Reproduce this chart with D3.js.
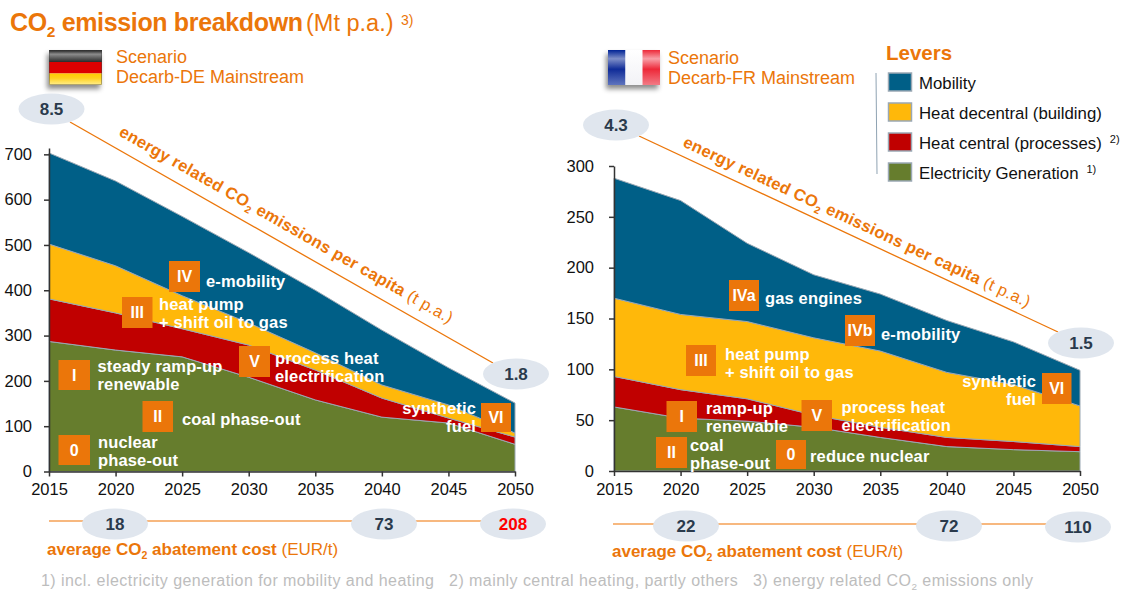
<!DOCTYPE html>
<html lang="en">
<head>
    <meta charset="UTF-8">
    <title>CO2 emission breakdown</title>
    <script src="https://d3js.org/d3.v7.min.js"></script>
    <style>
        html, body { margin: 0; padding: 0; background: #fff; }
        svg { display: block; }
        text { font-family: "Liberation Sans", Arial, sans-serif; }
    </style>
</head>
<body>
    <svg id="chart" width="1126" height="591"></svg>
    <script>
        const years = [2015, 2020, 2025, 2030, 2035, 2040, 2045, 2050];
        const levers = ['Electricity Generation', 'Heat central (processes)', 'Heat decentral (building)', 'Mobility'];

        // Germany, Mt p.a. per lever
        const deElectricity = [287, 268, 253, 208, 158, 120, 107, 60];
        const deHeatCentral = [94, 82, 62, 71, 66, 42, 11, 16];
        const deHeatDecentral = [121, 104, 73, 49, 38, 29, 29, 9];
        const deMobility = [201, 187, 175, 155, 138, 121, 82, 66];

        // France, Mt p.a. per lever
        const frElectricity = [63, 52, 49, 43, 33, 24, 21, 19];
        const frHeatCentral = [30, 28, 22, 12, 10, 9, 8, 5];
        const frHeatDecentral = [77, 74, 76, 76, 75, 64, 56, 40];
        const frMobility = [118, 112, 77, 62, 56, 51, 42, 35];

        const deTicks = [0, 100, 200, 300, 400, 500, 600, 700];
        const frTicks = [0, 50, 100, 150, 200, 250, 300];

        const dePerCapita = ['8.5', '1.8'];
        const frPerCapita = ['4.3', '1.5'];
        const deCost = ['18', '73', '208'];
        const frCost = ['22', '72', '110'];

        const orange = '#EB760A';
        const colors = {
            'Mobility': '#005F87',
            'Heat decentral (building)': '#FFB80A',
            'Heat central (processes)': '#C00000',
            'Electricity Generation': '#667D2D'
        };

        const svg = d3.select('#chart');
        const defs = svg.append('defs');

        defs.append('filter').attr('id', 'shadow')
            .attr('x', '-20%').attr('y', '-20%').attr('width', '140%').attr('height', '150%')
            .append('feDropShadow')
            .attr('dx', -2).attr('dy', 4).attr('stdDeviation', 2.5)
            .attr('flood-color', '#000').attr('flood-opacity', 0.45);

        function gradient(id, stops) {
            const g = defs.append('linearGradient').attr('id', id)
                .attr('x1', 0).attr('y1', 0).attr('x2', 0).attr('y2', 1);
            stops.forEach(s => g.append('stop').attr('offset', s[0]).attr('stop-color', s[1]));
        }
        gradient('deBlack', [[0, '#1c1c1c'], [0.35, '#8c8c8c'], [1, '#2a2a2a']]);
        gradient('deYellow', [[0, '#FFCC00'], [0.4, '#FFD21E'], [1, '#FFEE90']]);
        gradient('frBlue', [[0, '#002395'], [0.25, '#7f8fc8'], [0.55, '#102c98'], [1, '#5f74be']]);
        gradient('frWhite', [[0, '#ffffff'], [1, '#f2f2f6']]);
        gradient('frRed', [[0, '#ED2939'], [0.25, '#f8a0a8'], [0.55, '#ED2939'], [1, '#f27a85']]);

        // text with sub/superscript pieces: [string, bold?, 'sub'|'sup'|undefined]
        function richText(parent, x, y, parts, size, color, attrs) {
            const t = parent.append('text').attr('x', x).attr('y', y)
                .attr('font-size', size).attr('fill', color);
            Object.entries(attrs || {}).forEach(([k, v]) => t.attr(k, v));
            let back = 0;
            parts.forEach(p => {
                const ts = t.append('tspan').text(p[0])
                    .attr('font-weight', p[1] ? 'bold' : 'normal');
                let shift = 0;
                if (p[2] === 'sub') { shift = size * 0.24; ts.attr('font-size', size * 0.62); }
                if (p[2] === 'sup') { shift = -size * 0.42; ts.attr('font-size', size * 0.62); }
                ts.attr('dy', shift - back);
                back = shift;
            });
            return t;
        }

        function bubble(x, y, label, color) {
            svg.append('ellipse').attr('cx', x).attr('cy', y).attr('rx', 33).attr('ry', 15.5).attr('fill', '#E0E6EE');
            svg.append('text').attr('x', x).attr('y', y + 6).attr('text-anchor', 'middle')
                .attr('font-size', 17).attr('font-weight', 'bold').attr('fill', color || '#2A3A4C').text(label);
        }

        function badge(x, y, w, h, label) {
            svg.append('rect').attr('x', x).attr('y', y).attr('width', w).attr('height', h).attr('fill', orange);
            svg.append('text').attr('x', x + w / 2).attr('y', y + h / 2 + 5.5).attr('text-anchor', 'middle')
                .attr('font-size', 16).attr('font-weight', 'bold').attr('fill', '#fff').text(label);
        }

        function note(x, y, label, anchor) {
            svg.append('text').attr('x', x).attr('y', y).attr('text-anchor', anchor || 'start')
                .attr('font-size', 16.5).attr('font-weight', 'bold').attr('fill', '#fff')
                .attr('letter-spacing', 0.15).text(label);
        }

        function drawPanel(opts) {
            const x = d3.scaleLinear().domain([2015, 2050]).range(opts.xRange);
            const y = d3.scaleLinear().domain(opts.yDomain).range(opts.yRange);

            const rows = years.map((yr, i) => {
                const row = { year: yr };
                levers.forEach((l, j) => { row[l] = opts.series[j][i]; });
                return row;
            });
            const stacked = d3.stack().keys(levers)(rows);
            const area = d3.area()
                .x(d => x(d.data.year))
                .y0(d => y(d[0]))
                .y1(d => y(d[1]));

            svg.append('g').selectAll('path')
                .data(stacked)
                .join('path')
                .attr('d', area)
                .attr('fill', d => colors[d.key])
                .attr('stroke', '#9AA8B4')
                .attr('stroke-width', 1);

            const yAxis = svg.append('g')
                .attr('transform', `translate(${opts.xRange[0]},0)`)
                .call(d3.axisLeft(y).tickValues(opts.ticks).tickSize(5).tickPadding(opts.yPad).tickSizeOuter(0));
            const xAxis = svg.append('g')
                .attr('transform', `translate(0,${opts.yRange[0]})`)
                .call(d3.axisBottom(x).tickValues(years).tickFormat(d3.format('d')).tickSize(5).tickPadding(7).tickSizeOuter(0));

            [yAxis, xAxis].forEach(a => {
                a.selectAll('text').attr('font-size', 16.5).attr('fill', '#111')
                    .style('font-family', '"Liberation Sans", Arial, sans-serif');
                a.selectAll('line').attr('stroke', '#333').attr('stroke-width', 1.5);
                a.select('.domain').attr('stroke', '#333').attr('stroke-width', 1.5);
            });
        }

        drawPanel({
            xRange: [49, 515], yRange: [471.5, 148], yDomain: [0, 714], ticks: deTicks, yPad: 12,
            series: [deElectricity, deHeatCentral, deHeatDecentral, deMobility]
        });
        drawPanel({
            xRange: [614, 1080], yRange: [471, 166], yDomain: [0, 300], ticks: frTicks, yPad: 15,
            series: [frElectricity, frHeatCentral, frHeatDecentral, frMobility]
        });

        // title
        richText(svg, 10, 31, [['CO', true], ['2', true, 'sub'], [' emission breakdown', true]], 25, orange, { 'letter-spacing': -0.35 });
        richText(svg, 306, 31, [['(Mt p.a.)', false]], 23.5, orange);
        richText(svg, 401, 25, [['3)', false]], 14, orange);

        // flags
        const de = svg.append('g');
        de.append('rect').attr('x', 49).attr('y', 50).attr('width', 53).attr('height', 35).attr('fill', '#fff').attr('filter', 'url(#shadow)');
        de.append('rect').attr('x', 49).attr('y', 50).attr('width', 53).attr('height', 12).attr('fill', 'url(#deBlack)');
        de.append('rect').attr('x', 49).attr('y', 62).attr('width', 53).attr('height', 11.5).attr('fill', '#DD0000');
        de.append('rect').attr('x', 49).attr('y', 73.5).attr('width', 53).attr('height', 11.5).attr('fill', 'url(#deYellow)');
        de.append('rect').attr('x', 49.5).attr('y', 50.5).attr('width', 52).attr('height', 34).attr('fill', 'none').attr('stroke', '#444').attr('stroke-opacity', 0.6).attr('stroke-width', 0.7);

        const fr = svg.append('g');
        fr.append('rect').attr('x', 608).attr('y', 50).attr('width', 52).attr('height', 35).attr('fill', '#fff').attr('filter', 'url(#shadow)');
        fr.append('rect').attr('x', 608).attr('y', 50).attr('width', 17.5).attr('height', 35).attr('fill', 'url(#frBlue)');
        fr.append('rect').attr('x', 625.5).attr('y', 50).attr('width', 17).attr('height', 35).attr('fill', 'url(#frWhite)');
        fr.append('rect').attr('x', 642.5).attr('y', 50).attr('width', 17.5).attr('height', 35).attr('fill', 'url(#frRed)');

        // scenario labels
        svg.append('text').attr('x', 116).attr('y', 63).attr('font-size', 18).attr('fill', orange).text('Scenario');
        svg.append('text').attr('x', 116).attr('y', 83).attr('font-size', 18).attr('fill', orange).text('Decarb-DE Mainstream');
        svg.append('text').attr('x', 668).attr('y', 64).attr('font-size', 18).attr('fill', orange).text('Scenario');
        svg.append('text').attr('x', 668).attr('y', 84).attr('font-size', 18).attr('fill', orange).text('Decarb-FR Mainstream');

        // legend
        svg.append('text').attr('x', 886).attr('y', 60).attr('font-size', 20.5).attr('font-weight', 'bold').attr('fill', orange).text('Levers');
        svg.append('line').attr('x1', 876).attr('x2', 877).attr('y1', 73).attr('y2', 174).attr('stroke', '#8FA3B3').attr('stroke-width', 1);
        const legendOrder = ['Mobility', 'Heat decentral (building)', 'Heat central (processes)', 'Electricity Generation'];
        const legendNotes = ['', '', '2)', '1)'];
        const legendY = d3.scalePoint().domain(legendOrder).range([82, 172]);
        legendOrder.forEach((l, i) => {
            const cy = legendY(l);
            svg.append('rect').attr('x', 888.5).attr('y', cy - 9).attr('width', 23).attr('height', 18)
                .attr('fill', colors[l]).attr('stroke', '#9AA8B4').attr('stroke-width', 1.5);
            const t = richText(svg, 919, cy + 7, [[l, false]], 16.8, '#111');
            t.attr('class', 'legend-label');
            if (legendNotes[i]) {
                const w = t.node().getComputedTextLength();
                svg.append('text').attr('x', 919 + w + 8).attr('y', cy + 1).attr('font-size', 11).attr('fill', '#111').text(legendNotes[i]);
            }
        });

        // per capita lines
        svg.append('line').attr('x1', 70).attr('y1', 122).attr('x2', 493).attr('y2', 363).attr('stroke', orange).attr('stroke-width', 1.3);
        svg.append('line').attr('x1', 639).attr('y1', 136).attr('x2', 1058).attr('y2', 332).attr('stroke', orange).attr('stroke-width', 1.3);
        bubble(51.5, 109, dePerCapita[0]);
        bubble(516, 374, dePerCapita[1]);
        bubble(616, 125, frPerCapita[0]);
        bubble(1081, 343, frPerCapita[1]);

        const perCapitaParts = [['energy related CO', true], ['2', true, 'sub'], [' emissions per capita ', true], ['(t p.a.)', false]];
        richText(svg, 0, 0, perCapitaParts, 16.5, orange, {
            transform: 'translate(118,135) rotate(29.7)', 'letter-spacing': 0.28
        });
        richText(svg, 0, 0, perCapitaParts, 16.5, orange, {
            transform: 'translate(682,146) rotate(25.1)', 'letter-spacing': 0.28
        });

        // abatement cost rows
        svg.append('line').attr('x1', 49).attr('x2', 515).attr('y1', 521).attr('y2', 521).attr('stroke', '#F4A054').attr('stroke-width', 1.5);
        svg.append('line').attr('x1', 613).attr('x2', 1078).attr('y1', 524).attr('y2', 524).attr('stroke', '#F4A054').attr('stroke-width', 1.5);
        bubble(115, 524, deCost[0]);
        bubble(384, 524, deCost[1]);
        bubble(513, 524, deCost[2], '#FF0000');
        bubble(686, 526, frCost[0]);
        bubble(949, 526, frCost[1]);
        bubble(1078, 527, frCost[2]);

        const costParts = [['average CO', true], ['2', true, 'sub'], [' abatement cost ', true], [' (EUR/t)', false]];
        richText(svg, 47, 555, costParts, 17, orange);
        richText(svg, 612, 557, costParts, 17, orange);

        // footnote
        richText(svg, 41, 586, [['1) incl. electricity generation for mobility and heating   2) mainly central heating, partly others   3) energy related CO', false], ['2', false, 'sub'], [' emissions only', false]], 16, '#BDBDBD', { 'xml:space': 'preserve', 'letter-spacing': 0.45 });

        // lever badges, left panel
        badge(169, 261, 31, 31, 'IV');
        badge(122, 297, 30.5, 31, 'III');
        badge(239, 346, 31, 31, 'V');
        badge(58.5, 360, 31.5, 30, 'I');
        badge(142.5, 401, 30.5, 31, 'II');
        badge(58.5, 435, 31.5, 30, '0');
        badge(481, 403, 30, 29, 'VI');
        note(206, 287, 'e-mobility');
        note(159, 310, 'heat pump');
        note(159, 328, '+ shift oil to gas');
        note(275, 364, 'process heat');
        note(275, 382, 'electrification');
        note(97.5, 372, 'steady ramp-up');
        note(97.5, 390, 'renewable');
        note(182, 425, 'coal phase-out');
        note(98, 448, 'nuclear');
        note(98, 466, 'phase-out');
        note(476, 414, 'synthetic', 'end');
        note(476, 432, 'fuel', 'end');

        // lever badges, right panel
        badge(729, 280, 30, 31, 'IVa');
        badge(845, 315, 30, 31, 'IVb');
        badge(686, 345, 30, 31, 'III');
        badge(666.5, 401, 30.5, 31, 'I');
        badge(801.5, 400, 30.5, 31, 'V');
        badge(656, 437, 31, 31, 'II');
        badge(776, 440, 30, 29, '0');
        badge(1042, 373, 29.5, 31, 'VI');
        note(765, 304, 'gas engines');
        note(881, 340, 'e-mobility');
        note(725, 360, 'heat pump');
        note(725, 378, '+ shift oil to gas');
        note(706, 414, 'ramp-up');
        note(706, 432, 'renewable');
        note(841.5, 413, 'process heat');
        note(841.5, 431, 'electrification');
        note(690, 451, 'coal');
        note(690, 469, 'phase-out');
        note(810, 462, 'reduce nuclear');
        note(1036, 387, 'synthetic', 'end');
        note(1036, 405, 'fuel', 'end');
    </script>
</body>
</html>
